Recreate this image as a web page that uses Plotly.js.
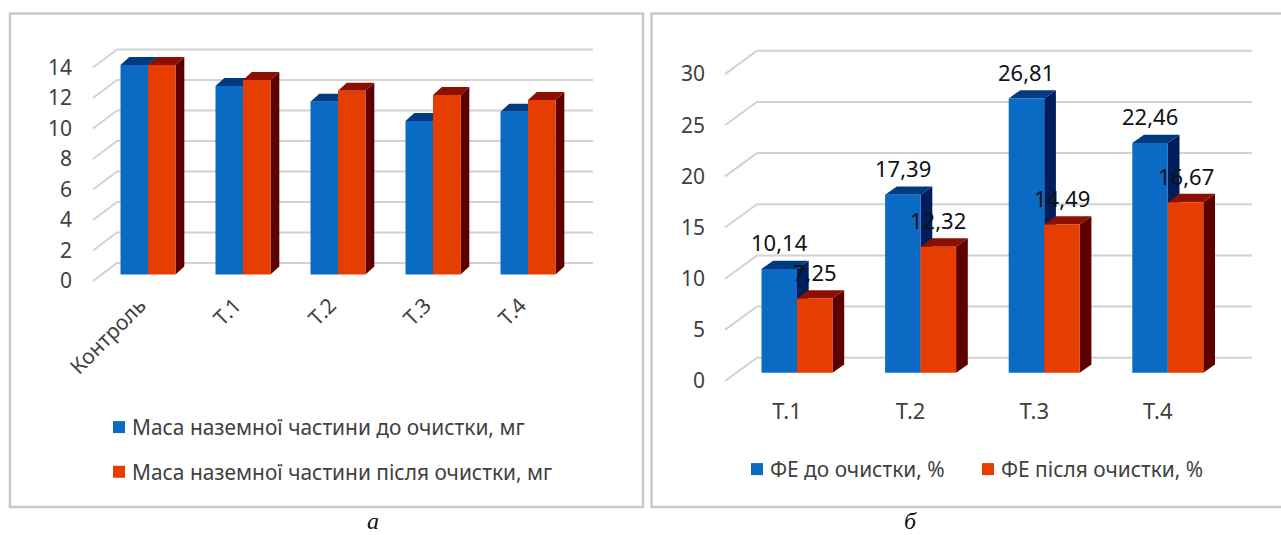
<!DOCTYPE html>
<html lang="uk">
<head>
<meta charset="utf-8">
<script src="https://cdn.plot.ly/plotly-3.0.1.min.js"></script>
<style>html,body{margin:0;padding:0;background:#fff}#chart{width:1281px;height:535px}</style>
</head>
<body>
<div id="chart"></div>
<script>
// Ground mass data
const massCategories = ['Контроль', 'Т.1', 'Т.2', 'Т.3', 'Т.4'];
const massBefore = [13.74, 12.36, 11.33, 10.07, 10.68];
const massAfter = [13.74, 12.75, 12.05, 11.77, 11.44];
const massTicks = [0, 2, 4, 6, 8, 10, 12, 14];
const massBeforeName = 'Маса наземної частини до очистки, мг';
const massAfterName = 'Маса наземної частини після очистки, мг';

// Phytotoxic effect data
const feCategories = ['Т.1', 'Т.2', 'Т.3', 'Т.4'];
const feBefore = [10.14, 17.39, 26.81, 22.46];
const feAfter = [7.25, 12.32, 14.49, 16.67];
const feTicks = [0, 5, 10, 15, 20, 25, 30];
const feBeforeName = 'ФЕ до очистки, %';
const feAfterName = 'ФЕ після очистки, %';

const W = 1281, H = 535;
const FONT = '"Noto Sans", sans-serif';
const BLUE = {front: '#0b6bc4', top: '#003a80', side: '#001e5c'};
const RED = {front: '#e63e00', top: '#8c1000', side: '#5e0000'};
const GRID = '#d2d2d2';

const traces = [];
const layout = {
  width: W, height: H, margin: {l: 0, r: 0, t: 0, b: 0},
  paper_bgcolor: '#fff', plot_bgcolor: 'rgba(0,0,0,0)',
  barmode: 'overlay', hovermode: false, shapes: [], annotations: []
};

// One pseudo-3D panel: back wall grid and bar sides on the base axes,
// bar fronts on an overlaid pair of axes, value labels as annotations.
function panel(p) {
  const ux = x => (x - p.center0) / p.step;
  const uy = y => (p.base - y) / p.ppu;
  const xRange = [ux(p.left), ux(p.right)];
  const yRange = [uy(p.bottom), uy(p.top)];
  const dx = p.depth[0] / p.step, dy = p.depth[1] / p.ppu;
  const hw = p.barWidth / p.step;
  const frontShift = uy(p.wallFrontY), backShift = uy(p.wallBackY);
  const xa = 'x' + p.id, ya = 'y' + p.id, xo = 'x' + (p.id + 2), yo = 'y' + (p.id + 2);
  const axisKey = (n, k) => k + 'axis' + (n === 1 ? '' : n);
  const xDomain = [p.left / W, p.right / W], yDomain = [1 - p.bottom / H, 1 - p.top / H];

  layout[axisKey(p.id, 'x')] = {
    domain: xDomain, range: xRange, showgrid: false, zeroline: false, showline: false, ticks: '',
    tickmode: 'array', tickvals: p.categories.map((_, i) => i + p.labelShift / p.step),
    ticktext: p.categories, tickangle: p.tickAngle, anchor: ya, fixedrange: true,
    tickfont: {family: FONT, size: p.categorySize, color: '#404040'}
  };
  layout[axisKey(p.id, 'y')] = {
    domain: yDomain, range: yRange, showgrid: false, zeroline: false, showline: false, ticks: '',
    tickmode: 'array', tickvals: p.ticks.map(v => v + frontShift), ticktext: p.ticks.map(String),
    anchor: xa, fixedrange: true,
    tickfont: {family: FONT, size: p.tickSize, color: '#404040'}
  };
  layout[axisKey(p.id + 2, 'x')] = {
    domain: xDomain, range: xRange, overlaying: xa, visible: false, anchor: yo, fixedrange: true
  };
  layout[axisKey(p.id + 2, 'y')] = {
    domain: yDomain, range: yRange, overlaying: ya, visible: false, anchor: xo, fixedrange: true
  };

  // Wall grid: short floor-side stroke, then the long stroke across the back wall
  const gx = [], gy = [];
  p.ticks.forEach(v => {
    gx.push(ux(p.wallFrontX), ux(p.wallBackX), ux(p.wallEndX), null);
    gy.push(v + frontShift, v + backShift, v + backShift, null);
  });
  traces.push({x: gx, y: gy, xaxis: xa, yaxis: ya, mode: 'lines', showlegend: false,
    line: {color: GRID, width: 2}});

  const face = (xs, ys, color) => traces.push({x: xs, y: ys, xaxis: xa, yaxis: ya, mode: 'lines',
    fill: 'toself', fillcolor: color, line: {width: 0, color: color}, showlegend: false});

  // Sides and tops; each series is offset from the group centre by one bar width
  [[p.before, BLUE, -hw], [p.after, RED, 0]].forEach(([vals, c, off]) => {
    vals.forEach((v, i) => {
      const x0 = i + off, x1 = x0 + hw;
      face([x1, x1 + dx, x1 + dx, x1, x1], [0, dy, v + dy, v, 0], c.side);
      face([x0, x0 + dx, x1 + dx, x1, x0], [v, v + dy, v + dy, v, v], c.top);
    });
  });

  // Bar fronts, drawn on the overlay so they cover the neighbouring side face
  const idx = p.categories.map((_, i) => i);
  [[p.before, BLUE, -hw, p.beforeName, 'a', p.legend], [p.after, RED, 0, p.afterName, 'b', p.legendAfter]].forEach(([vals, c, off, name, g, lg]) => {
    traces.push({type: 'bar', x: idx, y: vals, width: hw, offset: off, name: name,
      xaxis: xo, yaxis: yo, marker: {color: c.front, line: {width: 0}},
      legend: lg, legendgroup: p.id + g});
  });

  // Value labels sit above everything else, centred over their own bar
  if (p.labelLift) {
    [[p.before, -hw / 2], [p.after, hw / 2]].forEach(([vals, off]) => {
      vals.forEach((v, i) => layout.annotations.push({
        text: v.toFixed(2).replace('.', ','), x: i + off, y: v + p.labelLift / p.ppu,
        xref: xo, yref: yo, showarrow: false, xanchor: 'center', yanchor: 'middle',
        font: {family: FONT, size: p.valueSize, color: '#111'}
      }));
    });
  }
}

panel({
  id: 1, legend: 'legend', legendAfter: 'legend', categories: massCategories, before: massBefore, after: massAfter,
  ticks: massTicks, beforeName: massBeforeName, afterName: massAfterName,
  left: 73, right: 640, top: 20, bottom: 288,
  center0: 148, step: 95, base: 274.5, ppu: 15.25, barWidth: 27.5, depth: [8.8, 8],
  wallFrontX: 93, wallBackX: 117, wallEndX: 593, wallFrontY: 281, wallBackY: 263,
  tickSize: 21, categorySize: 21, tickAngle: -45, labelShift: -8
});

panel({
  id: 2, legend: 'legend2', legendAfter: 'legend3', categories: feCategories, before: feBefore, after: feAfter,
  ticks: feTicks, beforeName: feBeforeName, afterName: feAfterName,
  left: 706, right: 1279, top: 20, bottom: 396,
  center0: 797, step: 123.6, base: 372.7, ppu: 10.23, barWidth: 35.5, depth: [11.7, 8.3],
  wallFrontX: 725, wallBackX: 757, wallEndX: 1252, wallFrontY: 381, wallBackY: 357.7,
  tickSize: 21, categorySize: 22, tickAngle: 0, labelShift: -10, labelLift: 26.5, valueSize: 22
});

const legendFont = {family: FONT, size: 20.9, color: '#404040'};
layout.legend = {x: 92 / W, y: 1 - 407 / H, xanchor: 'left', yanchor: 'top', orientation: 'v',
  tracegroupgap: 14.5, bgcolor: 'rgba(0,0,0,0)', font: legendFont};
layout.legend2 = {x: 730 / W, y: 1 - 449 / H, xanchor: 'left', yanchor: 'top',
  bgcolor: 'rgba(0,0,0,0)', font: legendFont};
layout.legend3 = {x: 961 / W, y: 1 - 449 / H, xanchor: 'left', yanchor: 'top',
  bgcolor: 'rgba(0,0,0,0)', font: legendFont};

// Panel frames
[[10, 13.5, 643, 507], [651.5, 13.5, 1290, 507]].forEach(([x0, y0, x1, y1]) => {
  layout.shapes.push({type: 'rect', xref: 'paper', yref: 'paper', layer: 'below',
    x0: x0 / W, x1: x1 / W, y0: 1 - y0 / H, y1: 1 - y1 / H,
    line: {color: '#c9c9c9', width: 2.5}, fillcolor: '#fff'});
});

// Panel captions
[['а', 373], ['б', 910]].forEach(([t, x]) => {
  layout.annotations.push({text: t, xref: 'paper', yref: 'paper', x: x / W, y: 0,
    showarrow: false, xanchor: 'center', yanchor: 'bottom', borderpad: 0,
    font: {family: '"Liberation Serif", serif', size: 24, style: 'italic', color: '#111'}});
});

Plotly.newPlot('chart', traces, layout, {displayModeBar: false, staticPlot: true}).then(() => {
  // Pull each legend swatch closer to its text
  document.querySelectorAll('.legendsymbols').forEach(g => g.setAttribute('transform', 'translate(7,0)'));
});
</script>
</body>
</html>
